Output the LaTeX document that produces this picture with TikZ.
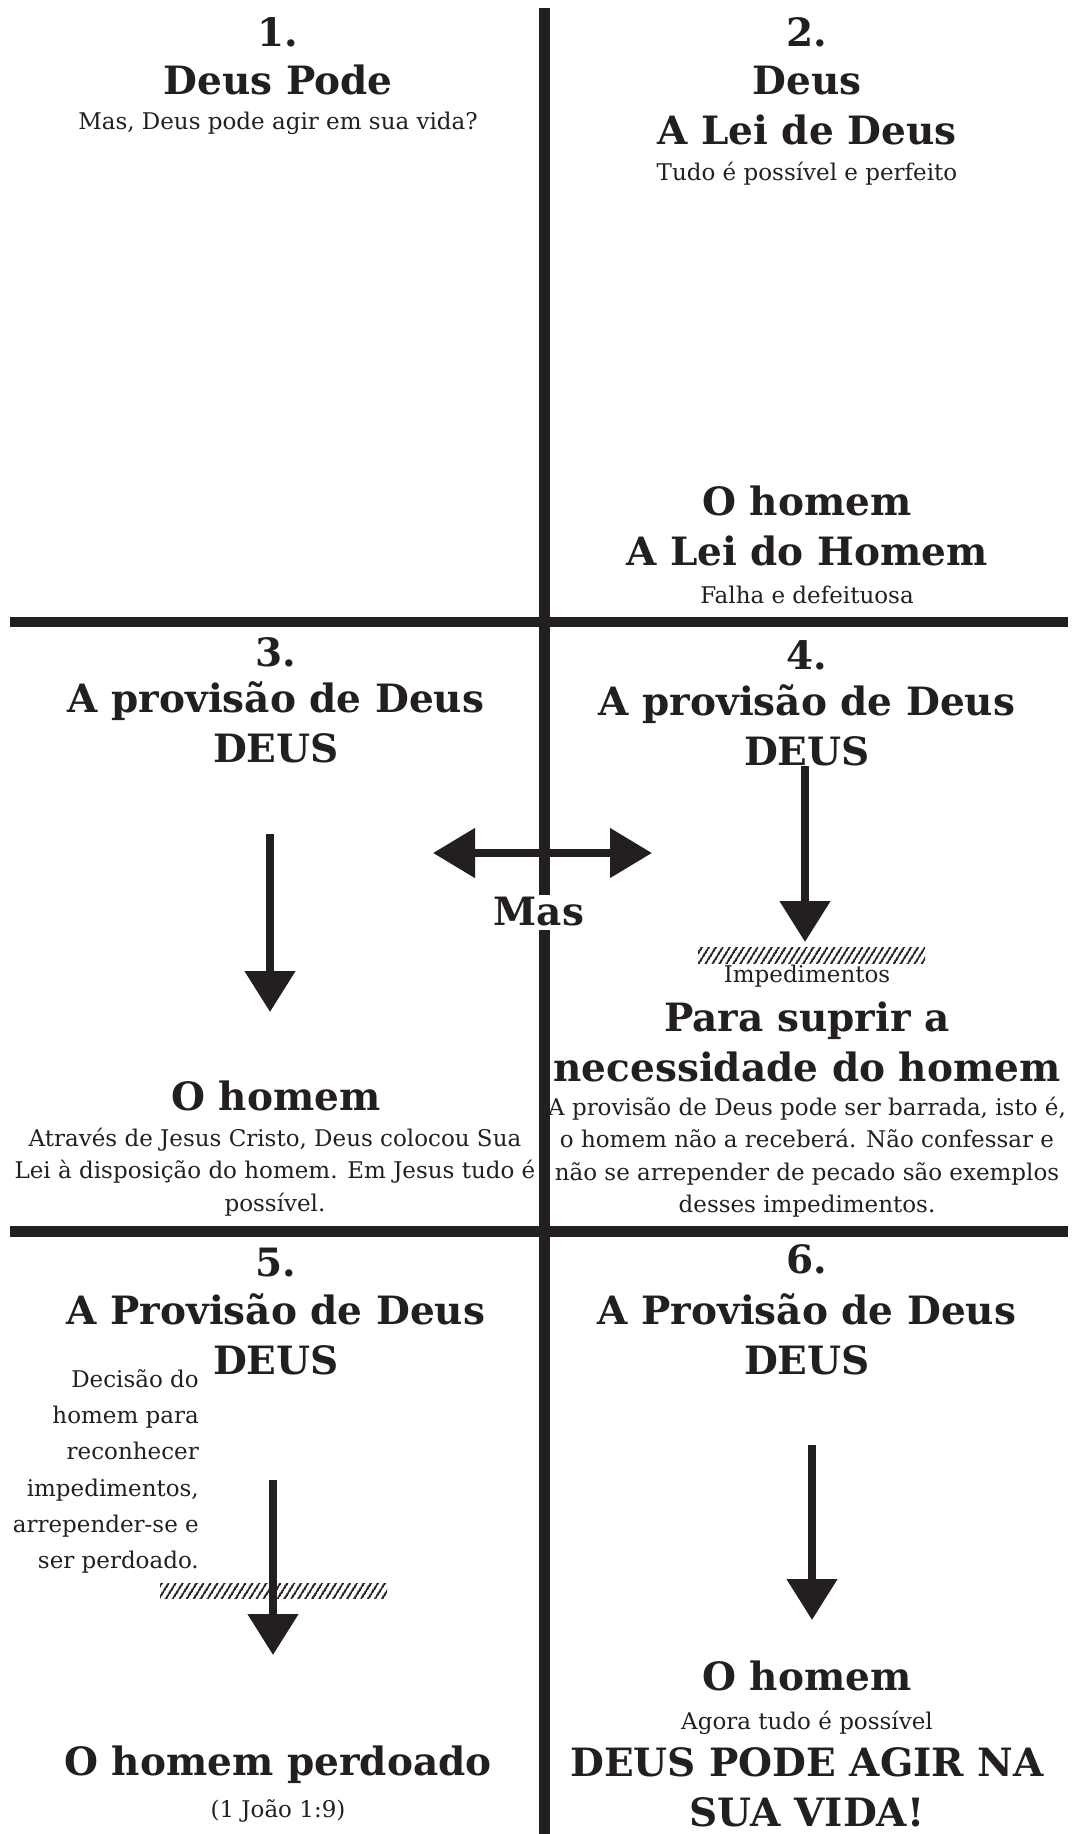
\documentclass[tikz,border=0pt]{standalone}
\usepackage{fontspec}
\setmainfont{DejaVu Serif}
\usetikzlibrary{arrows.meta,patterns.meta}
\definecolor{ink}{HTML}{231F20}

\begin{document}
\begin{tikzpicture}[x=1pt,y=-1pt,
  head/.style={font=\bfseries\fontsize{39}{50}\selectfont,text=ink,align=center,inner sep=0pt},
  body/.style={font=\fontsize{23}{32.5}\selectfont,text=ink,align=center,inner sep=0pt},
  divider/.style={ink,line width=10.5pt},
  pointer/.style={ink,line width=8pt,-{Triangle[length=41pt,width=49pt]}},
  hatch/.style={pattern={Lines[angle=58,distance=6.4pt,line width=2.2pt]},pattern color=ink}]
\useasboundingbox (0,0) rectangle (1075,1834);

% dividers
\coordinate (vtop) at (544.5,8);
\coordinate (vbot) at (544.5,1834);
\coordinate (hal) at (10,622);
\coordinate (har) at (1068,622);
\coordinate (hbl) at (10,1231.5);
\coordinate (hbr) at (1068,1231.5);
\draw[divider] (vtop) -- (vbot);
\draw[divider] (hal) -- (har);
\draw[divider] (hbl) -- (hbr);

% 1.
\node[head] (n1) at (278,32) {1.};
\node[head] (h1) at (278,80) {Deus Pode};
\node[body] (t1) at (278,123) {Mas, Deus pode agir em sua vida?};

% 2.
\node[head] (n2) at (807,32) {2.};
\node[head] (h2) at (807,105.5) {Deus\\A Lei de Deus};
\node[body] (t2) at (807,174) {Tudo é possível e perfeito};
\node[head] (h2b) at (807,526) {O homem\\A Lei do Homem};
\node[body] (t2b) at (807,595) {Falha e defeituosa};

% 3.
\node[head] (n3) at (276,652) {3.};
\node[head] (h3) at (276,722) {A provisão de Deus\\DEUS};
\coordinate (p3a) at (270,834);
\coordinate (p3b) at (270,1012);
\draw[pointer] (p3a) -- (p3b);
\node[head] (h3b) at (276,1096) {O homem};
\node[body] (t3) at (275,1172) {Através de Jesus Cristo, Deus colocou Sua\\Lei à disposição do homem. Em Jesus tudo é\\possível.};

% Mas
\coordinate (masl) at (433,853);
\coordinate (masr) at (652,853);
\draw[ink,line width=8pt,{Triangle[length=42pt,width=48pt]}-{Triangle[length=42pt,width=48pt]}] (masl) -- (masr);
\node[head,fill=white,inner sep=3pt] (mas) at (539,912) {Mas};

% 4.
\node[head] (n4) at (807,655) {4.};
\node[head] (h4) at (807,725.5) {A provisão de Deus\\DEUS};
\coordinate (p4a) at (805,766);
\coordinate (p4b) at (805,942);
\draw[pointer] (p4a) -- (p4b);
\fill[hatch] (698,947) rectangle (925,963);
\node[body] (imp) at (807,976) {Impedimentos};
\node[head] (h4b) at (807,1042) {Para suprir a\\necessidade do homem};
\node[body] (t4) at (807,1157) {A provisão de Deus pode ser barrada, isto é,\\o homem não a receberá. Não confessar e\\não se arrepender de pecado são exemplos\\desses impedimentos.};

% 5.
\node[head] (n5) at (276,1263) {5.};
\node[head] (h5) at (276,1334) {A Provisão de Deus\\DEUS};
\node[body,align=right,anchor=east,font=\fontsize{23}{36.2}\selectfont] (t5) at (199,1471.5) {Decisão do\\homem para\\reconhecer\\impedimentos,\\arrepender-se e\\ser perdoado.};
\fill[hatch] (160,1583) rectangle (387,1598);
\coordinate (p5a) at (273,1480);
\coordinate (p5b) at (273,1655);
\draw[pointer] (p5a) -- (p5b);
\node[head] (h5b) at (278,1765) {O homem perdoado};
\node[body] (r5) at (278,1811) {(1 João 1:9)};

% 6.
\node[head] (n6) at (807,1259) {6.};
\node[head] (h6) at (807,1334) {A Provisão de Deus\\DEUS};
\coordinate (p6a) at (812,1445);
\coordinate (p6b) at (812,1620);
\draw[pointer] (p6a) -- (p6b);
\node[head] (h6b) at (807,1676) {O homem};
\node[body] (t6) at (807,1723) {Agora tudo é possível};
\node[head] (h6c) at (807,1787) {DEUS PODE AGIR NA\\SUA VIDA!};
\end{tikzpicture}
\end{document}
